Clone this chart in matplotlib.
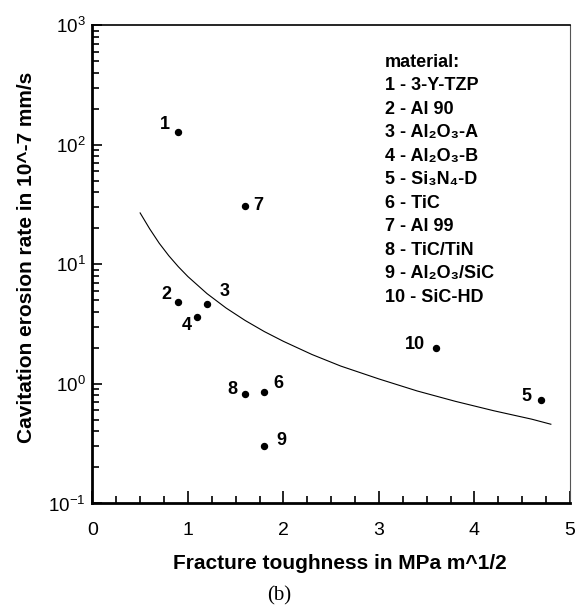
import matplotlib
matplotlib.use("Agg")
import matplotlib.pyplot as plt
from matplotlib.ticker import MultipleLocator, LogLocator, NullFormatter

plt.rcParams['font.family'] = ['Liberation Sans', 'DejaVu Sans']

# materials: label, fracture toughness, erosion rate
labels = ['1', '2', '3', '4', '5', '6', '7', '8', '9', '10']
toughness = [0.9, 0.9, 1.2, 1.1, 4.7, 1.8, 1.6, 1.6, 1.8, 3.6]
erosion = [128, 4.8, 4.7, 3.6, 0.74, 0.86, 31, 0.83, 0.30, 2.0]
# label offsets (points) from the dot
label_dx = [-10, -8.5, 12.5, -8, -11, 10, 9.5, -9.5, 12, -15]
label_dy = [5, 6, 8.5, -5.5, 2.5, 6, 0, 3, 4.5, 2.5]

# fitted curve
curve_x = [0.5, 0.6, 0.7, 0.8, 0.9, 1.0, 1.2, 1.4, 1.6, 1.8, 2.0, 2.3, 2.6,
           3.0, 3.4, 3.8, 4.2, 4.6, 4.8]
curve_y = [26.9, 19.8, 15.0, 11.8, 9.55, 7.9, 5.69, 4.31, 3.39, 2.74, 2.27,
           1.76, 1.41, 1.10, 0.873, 0.715, 0.597, 0.507, 0.46]

legend_lines = ['material:', '1 - 3-Y-TZP', '2 - Al 90', '3 - Al₂O₃-A',
                '4 - Al₂O₃-B', '5 - Si₃N₄-D', '6 - TiC', '7 - Al 99',
                '8 - TiC/TiN', '9 - Al₂O₃/SiC', '10 - SiC-HD']

fig = plt.figure(figsize=(5.81, 6.14), dpi=100)
ax = fig.add_axes([0.159, 0.180, 0.822, 0.779])

ax.plot(curve_x, curve_y, color='black', linewidth=0.8)
ax.plot(toughness, erosion, 'o', color='black', markersize=4.3)
for lab, x, y, dx, dy in zip(labels, toughness, erosion, label_dx, label_dy):
    ax.annotate(lab, (x, y), xytext=(dx, dy), textcoords='offset points',
                ha='center', va='center', fontsize=13, fontweight='bold')

ax.set_yscale('log')
ax.set_xlim(0, 5)
ax.set_ylim(0.1, 1000)
ax.xaxis.set_major_locator(MultipleLocator(1))
ax.xaxis.set_minor_locator(MultipleLocator(0.25))
ax.yaxis.set_major_locator(LogLocator(base=10, numticks=10))
ax.yaxis.set_minor_locator(LogLocator(base=10, subs=range(2, 10), numticks=20))
ax.yaxis.set_minor_formatter(NullFormatter())

ax.tick_params(which='both', direction='in', top=False, right=False, width=1.2)
ax.tick_params(axis='x', which='major', length=9, pad=13, labelsize=14)
ax.tick_params(axis='x', which='minor', length=5)
ax.tick_params(axis='y', which='major', length=7, pad=5, labelsize=13.5)
ax.tick_params(axis='y', which='minor', length=5)

ax.spines['left'].set_linewidth(2.0)
ax.spines['bottom'].set_linewidth(2.0)
ax.spines['top'].set_linewidth(1.2)
ax.spines['right'].set_linewidth(0.8)
ax.spines['right'].set_color('#555555')

ax.set_xlabel('Fracture toughness in MPa m^1/2', fontsize=15, fontweight='bold')
ax.set_ylabel('Cavitation erosion rate in 10^-7 mm/s', fontsize=15, fontweight='bold')
ax.xaxis.set_label_coords(0.5185, -0.105)
ax.yaxis.set_label_coords(-0.118, 0.514)

for i, line in enumerate(legend_lines):
    ax.text(0.613, 0.923 - i * 0.0492, line, transform=ax.transAxes,
            ha='left', va='center', fontsize=13, fontweight='bold')

fig.text(279 / 581, 1 - 596 / 614, '(b)', ha='center', va='center',
         fontsize=15, family='Liberation Serif')

fig.savefig('out.png', dpi=100)
